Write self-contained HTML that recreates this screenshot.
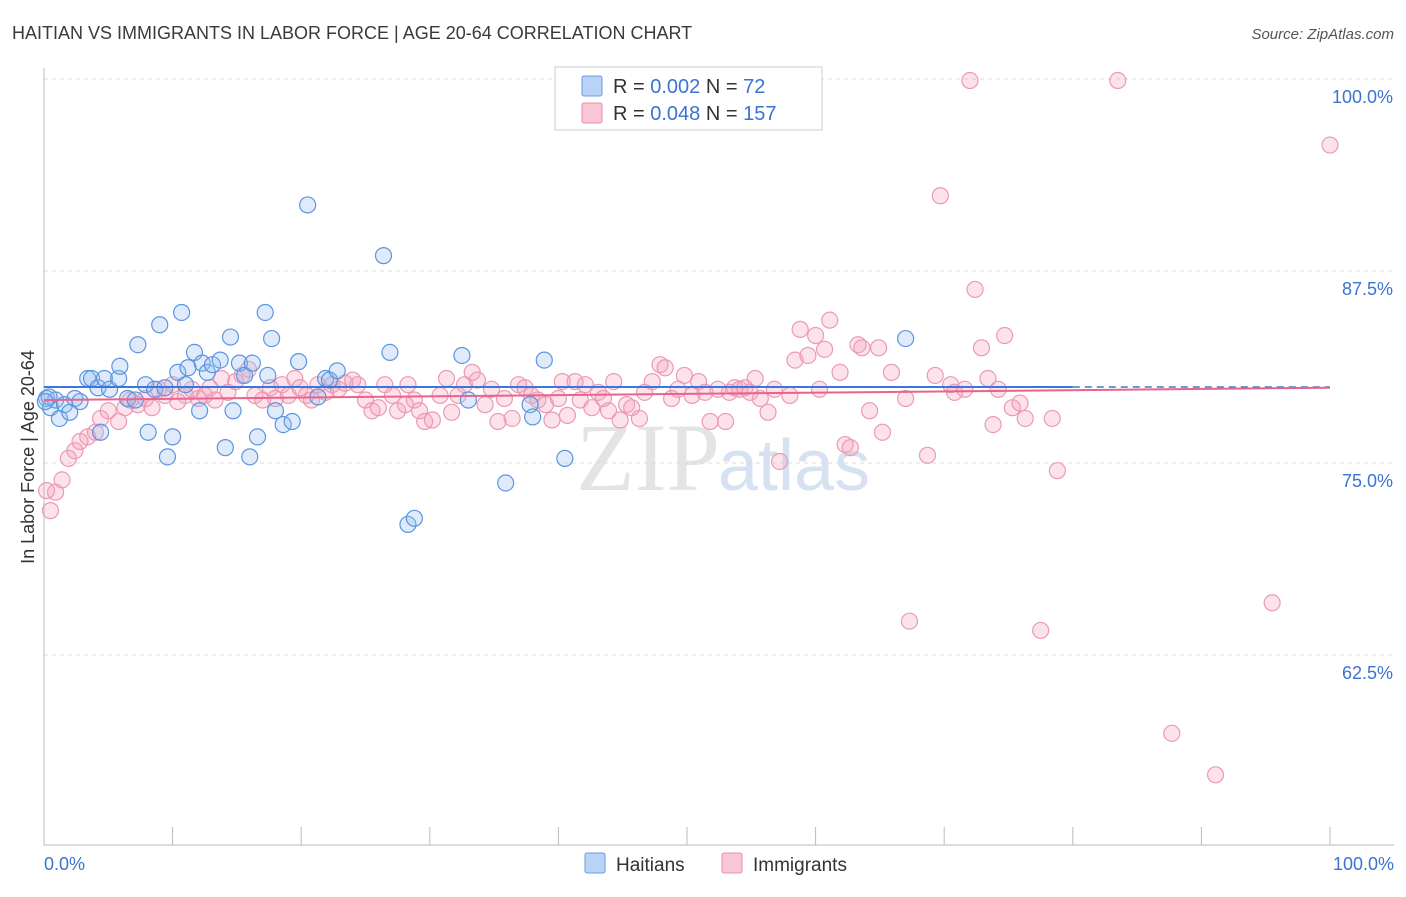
<!DOCTYPE html>
<html><head><meta charset="utf-8"><style>
body{margin:0;background:#fff;font-family:"Liberation Sans",sans-serif;}
</style></head><body>
<svg id="chart" width="1406" height="892" xmlns="http://www.w3.org/2000/svg">
<text x="12" y="39" font-size="18" fill="#3a3a3a">HAITIAN VS IMMIGRANTS IN LABOR FORCE | AGE 20-64 CORRELATION CHART</text>
<text x="1394" y="39" font-size="15" fill="#555" text-anchor="end" font-style="italic">Source: ZipAtlas.com</text>
<text x="720" y="490" font-size="96" fill="#e4e4e4" text-anchor="end" font-family="Liberation Serif">ZIP</text>
<text x="718" y="490" font-size="72" fill="#d6e2f2">atlas</text>
<g id="grid"></g><g id="axes"></g><g id="marks"></g>
<text transform="translate(34,457) rotate(-90)" font-size="18" fill="#333" text-anchor="middle">In Labor Force | Age 20-64</text>
<g>
<rect x="555" y="67" width="267" height="63" fill="#fff" stroke="#ccc"/>
<rect x="582" y="76" width="20" height="20" fill="#b8d3f5" stroke="#6a9de0" rx="2"/>
<rect x="582" y="103" width="20" height="20" fill="#f8c6d5" stroke="#e890ab" rx="2"/>
<text x="613" y="93" font-size="20" fill="#333">R = <tspan fill="#3a73d0">0.002</tspan>   N =  <tspan fill="#3a73d0"> 72</tspan></text>
<text x="613" y="120" font-size="20" fill="#333">R = <tspan fill="#3a73d0">0.048</tspan>   N = <tspan fill="#3a73d0">157</tspan></text>
</g>
<g>
<rect x="585" y="853" width="20" height="20" fill="#b8d3f5" stroke="#6a9de0" rx="2"/>
<text x="616" y="871" font-size="19" fill="#333">Haitians</text>
<rect x="722" y="853" width="20" height="20" fill="#f8c6d5" stroke="#e890ab" rx="2"/>
<text x="753" y="871" font-size="19" fill="#333">Immigrants</text>
</g>
</svg>
<script>
const blueX=[0.2,0.5,0.9,1.2,1.6,2.0,2.4,2.8,3.4,3.7,4.2,4.4,4.7,5.1,5.8,5.9,6.5,7.1,7.3,7.9,8.1,8.6,9.0,9.4,9.6,10.0,10.4,10.7,11.0,11.2,11.7,12.1,12.3,12.7,13.1,13.7,14.1,14.5,14.7,15.2,15.6,16.0,16.2,16.6,17.2,17.4,17.7,18.0,18.6,19.3,19.8,20.5,21.3,21.9,22.2,22.8,26.4,26.9,28.3,28.8,32.5,33.0,35.9,37.8,38.0,38.9,40.5,67.0,0.4,0.1];
const blueY=[79.2,78.6,79.1,77.9,78.8,78.3,79.2,79.0,80.5,80.5,79.9,77.0,80.5,79.8,80.5,81.3,79.2,79.1,82.7,80.1,77.0,79.8,84.0,79.9,75.4,76.7,80.9,84.8,80.1,81.2,82.2,78.4,81.5,80.9,81.4,81.7,76.0,83.2,78.4,81.5,80.7,75.4,81.5,76.7,84.8,80.7,83.1,78.4,77.5,77.7,81.6,91.8,79.3,80.5,80.4,81.0,88.5,82.2,71.0,71.4,82.0,79.1,73.7,78.8,78.0,81.7,75.3,83.1,79.3,79.0];
const pinkX=[0.5,0.9,1.4,1.9,2.4,2.8,3.4,4.0,4.4,5.0,5.8,6.3,6.7,7.3,7.9,8.4,8.9,9.4,10.0,10.4,11.0,11.5,12.0,12.5,12.9,13.3,13.8,14.3,14.9,15.4,15.9,16.4,17.0,17.6,18.0,18.5,19.0,19.5,19.9,20.4,20.8,21.3,21.9,22.4,22.9,23.4,24.0,24.4,25.0,25.5,26.0,26.5,27.1,27.5,28.1,28.3,28.8,29.2,29.6,30.2,30.8,31.3,31.7,32.2,32.7,33.3,33.7,34.3,34.8,35.3,35.8,36.4,36.9,37.4,37.9,38.4,39.0,39.5,40.0,40.3,40.7,41.3,41.7,42.1,42.6,43.1,43.5,43.9,44.3,44.8,45.3,45.7,46.3,46.7,47.3,47.9,48.3,48.8,49.3,49.8,50.4,50.9,51.4,51.8,52.4,53.0,53.3,53.7,54.1,54.5,54.9,55.3,55.7,56.3,56.8,57.2,58.0,58.4,58.8,59.4,60.0,60.3,60.7,61.1,61.9,62.3,62.7,63.3,63.6,64.2,64.9,65.2,65.9,67.0,68.7,69.3,69.7,70.5,70.8,71.6,72.0,72.4,72.9,73.4,73.8,74.2,74.7,75.3,75.9,76.3,77.5,78.4,78.8,83.5,87.7,91.1,95.5,100.0,67.3,0.2];
const pinkY=[71.9,73.1,73.9,75.3,75.8,76.4,76.7,77.0,77.9,78.4,77.7,78.6,79.1,78.8,79.2,78.6,79.8,79.4,80.1,79.0,79.4,79.8,79.2,79.4,79.9,79.1,80.5,79.6,80.3,80.7,81.1,79.4,79.1,79.9,79.2,80.1,79.4,80.5,79.9,79.4,79.1,80.1,79.6,80.1,79.8,80.2,80.4,80.1,79.1,78.4,78.6,80.1,79.4,78.4,78.8,80.1,79.1,78.4,77.7,77.8,79.4,80.5,78.3,79.4,80.1,80.9,80.4,78.8,79.8,77.7,79.2,77.9,80.1,79.9,79.4,79.1,78.8,77.8,79.2,80.3,78.1,80.3,79.1,80.1,78.6,79.6,79.2,78.4,80.3,77.8,78.8,78.6,77.9,79.6,80.3,81.4,81.2,79.2,79.8,80.7,79.4,80.3,79.6,77.7,79.8,77.7,79.6,79.9,79.8,79.9,79.6,80.5,79.2,78.3,79.8,75.1,79.4,81.7,83.7,82.0,83.3,79.8,82.4,84.3,80.9,76.2,76.0,82.7,82.5,78.4,82.5,77.0,80.9,79.2,75.5,80.7,92.4,80.1,79.6,79.8,99.9,86.3,82.5,80.5,77.5,79.8,83.3,78.6,78.9,77.9,64.1,77.9,74.5,99.9,57.4,54.7,65.9,95.7,64.7,73.2];
const blueTrend=[79.95,79.95];
const pinkTrend=[79.1,79.9];
const yTicks=[100,87.5,75,62.5];
const yTickLabels=["100.0%","87.5%","75.0%","62.5%"];
const xEndLabels=["0.0%","100.0%"];
const NS="http://www.w3.org/2000/svg";
const X0=44,X1=1330,YTOP=79,PXPER=15.36;
const sx=v=>X0+(X1-X0)*v/100;
const sy=v=>YTOP+(100-v)*PXPER;
function mk(tag,attrs,parent){const e=document.createElementNS(NS,tag);for(const k in attrs)e.setAttribute(k,attrs[k]);parent.appendChild(e);return e;}
const grid=document.getElementById('grid'),axes=document.getElementById('axes'),marks=document.getElementById('marks');
yTicks.forEach((t,i)=>{
  const l=mk('line',{x1:X0,x2:1394,y1:sy(t),y2:sy(t),stroke:'#ddd','stroke-dasharray':'4,4'},grid);
  
  
  const tx=mk('text',{x:1393,y:sy(t)+24,'font-size':18,fill:'#3a73d0','text-anchor':'end'},axes);
  tx.textContent=yTickLabels[i];
  
  
});
const ax=mk('line',{x1:X0,x2:1394,y1:845,y2:845,stroke:'#bbb'},axes);


const ay=mk('line',{x1:X0,x2:X0,y1:68,y2:845,stroke:'#bbb'},axes);


for(let i=0;i<=10;i++){
  const t=mk('line',{x1:sx(i*10),x2:sx(i*10),y1:827,y2:845,stroke:'#bbb'},axes);
  
  
}
const l0=mk('text',{x:44,y:870,'font-size':18,fill:'#3a73d0'},axes);l0.textContent=xEndLabels[0];


const l1=mk('text',{x:1394,y:870,'font-size':18,fill:'#3a73d0','text-anchor':'end'},axes);l1.textContent=xEndLabels[1];


pinkX.forEach((x,i)=>{
  const c=mk('circle',{cx:sx(x),cy:sy(pinkY[i]),r:8,fill:'rgba(244,160,188,0.3)',stroke:'#ec9ab4','stroke-width':1.2},marks);
  
  
});
blueX.forEach((x,i)=>{
  const c=mk('circle',{cx:sx(x),cy:sy(blueY[i]),r:8,fill:'rgba(150,190,240,0.3)',stroke:'#5b95e0','stroke-width':1.2},marks);
  
  
});
const bt=mk('line',{x1:sx(0),x2:sx(80),y1:sy(blueTrend[0]),y2:sy(blueTrend[0]+(blueTrend[1]-blueTrend[0])*0.8),stroke:'#3a78d8','stroke-width':2},marks);


const bd=mk('line',{x1:sx(80),x2:sx(100),y1:sy(blueTrend[0]+(blueTrend[1]-blueTrend[0])*0.8),y2:sy(blueTrend[1]),stroke:'#3a78d8','stroke-width':1.5,'stroke-dasharray':'7,5'},marks);


const pt=mk('line',{x1:sx(0),x2:sx(100),y1:sy(pinkTrend[0]),y2:sy(pinkTrend[1]),stroke:'#e8638f','stroke-width':2},marks);


</script>
</body></html>
